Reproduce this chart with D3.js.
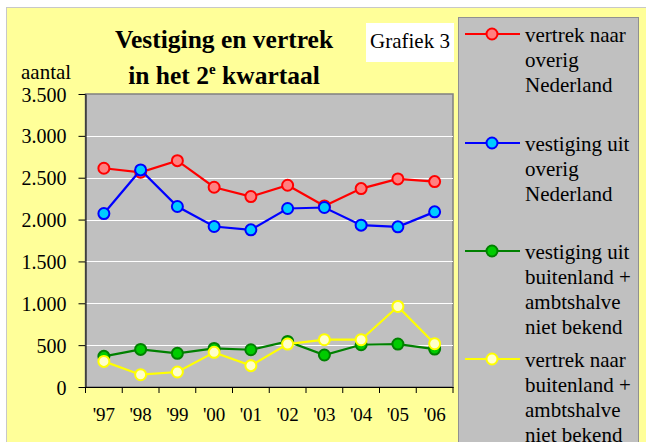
<!DOCTYPE html>
<html>
<head>
<meta charset="utf-8">
<script src="https://cdn.jsdelivr.net/npm/d3@7"></script>
<style>
  body { margin: 0; background: #fff; }
</style>
</head>
<body>
<svg id="chart"></svg>
<script>
// data
const years = ["'97", "'98", "'99", "'00", "'01", "'02", "'03", "'04", "'05", "'06"];
const vertrekNL = [2613, 2565, 2704, 2386, 2275, 2410, 2163, 2370, 2486, 2454];
const vestigingNL = [2072, 2593, 2156, 1917, 1877, 2132, 2144, 1933, 1913, 2092];
const vestigingBL = [366, 449, 402, 461, 445, 545, 382, 505, 513, 453];
const vertrekBL = [306, 147, 179, 414, 255, 513, 565, 565, 962, 517];
const yTicks = [0, 500, 1000, 1500, 2000, 2500, 3000, 3500];

const series = [
  { name: ["vertrek naar", "overig", "Nederland"], values: vertrekNL, line: "#ff0000", fill: "#ff8080" },
  { name: ["vestiging uit", "overig", "Nederland"], values: vestigingNL, line: "#0000ff", fill: "#00ccff" },
  { name: ["vestiging uit", "buitenland +", "ambtshalve", "niet bekend"], values: vestigingBL, line: "#008000", fill: "#00cc00" },
  { name: ["vertrek naar", "buitenland +", "ambtshalve", "niet bekend"], values: vertrekBL, line: "#ffff00", fill: "#ffffcc" }
];

const serif = '"Liberation Serif", "Times New Roman", Times, "DejaVu Serif", serif';

const svg = d3.select('#chart')
  .attr('width', 646)
  .attr('height', 442)
  .attr('font-family', serif);

// chart background
svg.append('rect')
  .attr('x', 6.5).attr('y', 7.5)
  .attr('width', 650).attr('height', 440)
  .style('fill', '#ffff99')
  .style('stroke', '#c8c8c8');

const plot = { left: 85.5, right: 453, top: 94, bottom: 387 };

const x = d3.scaleBand()
  .domain(years)
  .range([plot.left, plot.right])
  .padding(0);

const y = d3.scaleLinear()
  .domain([0, 3500])
  .range([plot.bottom, plot.top]);

// plot area
svg.append('rect')
  .attr('x', plot.left).attr('y', plot.top)
  .attr('width', plot.right - plot.left).attr('height', plot.bottom - plot.top)
  .style('fill', '#c0c0c0')
  .style('stroke', '#808080')
  .style('stroke-width', 1.5);

// gridlines
svg.append('g')
  .selectAll('line')
  .data(yTicks.filter(d => d > 0 && d < 3500))
  .enter()
  .append('line')
  .attr('x1', plot.left).attr('x2', plot.right)
  .attr('y1', d => Math.round(y(d)) + 0.5).attr('y2', d => Math.round(y(d)) + 0.5)
  .style('stroke', '#fff');

const nl = d3.formatLocale({ decimal: ',', thousands: '.', grouping: [3], currency: ['', ''] });

// y axis
const yAxis = svg.append('g')
  .attr('transform', `translate(${plot.left},0)`)
  .call(d3.axisLeft(y).tickValues(yTicks).tickFormat(nl.format(',d')).tickSize(7).tickPadding(12).tickSizeOuter(0));
yAxis.attr('font-family', null).attr('font-size', null);
yAxis.selectAll('text').style('font-size', '20px').style('font-family', serif).attr('dy', '0.35em');
yAxis.selectAll('line, path').style('stroke', '#000');

// x axis: labels centered in bands, ticks on band edges
const xAxis = svg.append('g')
  .attr('transform', `translate(0,${plot.bottom})`)
  .call(d3.axisBottom(x).tickSize(0).tickPadding(21).tickSizeOuter(0));
xAxis.attr('font-family', null).attr('font-size', null);
xAxis.selectAll('text').style('font-size', '19px').style('font-family', serif);
xAxis.select('path').style('stroke', '#000');
xAxis.selectAll('.edge')
  .data(d3.range(years.length + 1))
  .enter()
  .append('line')
  .attr('class', 'edge')
  .attr('x1', i => plot.left + i * x.step()).attr('x2', i => plot.left + i * x.step())
  .attr('y1', 0).attr('y2', 6)
  .style('stroke', '#000');

// lines + markers
const line = d3.line()
  .x((d, i) => x(years[i]) + x.bandwidth() / 2)
  .y(d => y(d));

series.forEach(s => {
  svg.append('path')
    .datum(s.values)
    .attr('d', line)
    .style('fill', 'none')
    .style('stroke', s.line)
    .style('stroke-width', 2.2);
  svg.append('g')
    .selectAll('circle')
    .data(s.values)
    .enter()
    .append('circle')
    .attr('cx', (d, i) => x(years[i]) + x.bandwidth() / 2)
    .attr('cy', d => y(d))
    .attr('r', 5.5)
    .style('fill', s.fill)
    .style('stroke', s.line)
    .style('stroke-width', 2);
});

// titles
const title = svg.append('text')
  .attr('text-anchor', 'middle')
  .style('font-size', '25.5px')
  .style('font-weight', 'bold');
title.append('tspan').attr('x', 224).attr('y', 48).text('Vestiging en vertrek');
const t2 = title.append('tspan').attr('x', 224).attr('y', 84);
t2.append('tspan').text('in het 2');
t2.append('tspan').attr('dy', -10).style('font-size', '15px').text('e');
t2.append('tspan').attr('dy', 10).text(' kwartaal');

svg.append('text')
  .attr('x', 21).attr('y', 79)
  .style('font-size', '21px')
  .text('aantal');

svg.append('rect')
  .attr('x', 366).attr('y', 23)
  .attr('width', 88).attr('height', 39)
  .style('fill', '#fff');
svg.append('text')
  .attr('x', 410).attr('y', 48)
  .attr('text-anchor', 'middle')
  .style('font-size', '21px')
  .text('Grafiek 3');

// legend
svg.append('rect')
  .attr('x', 458.5).attr('y', 17.5)
  .attr('width', 180).attr('height', 440)
  .style('fill', '#c0c0c0')
  .style('stroke', '#909090');

const legendY = [34, 143, 251, 359];
series.forEach((s, k) => {
  const g = svg.append('g').attr('transform', `translate(0,${legendY[k]})`);
  g.append('line')
    .attr('x1', 465).attr('x2', 520)
    .style('stroke', s.line)
    .style('stroke-width', 2.2);
  g.append('circle')
    .attr('cx', 492).attr('r', 5.5)
    .style('fill', s.fill)
    .style('stroke', s.line)
    .style('stroke-width', 2);
  g.append('text')
    .style('font-size', '21px')
    .selectAll('tspan')
    .data(s.name)
    .enter()
    .append('tspan')
    .attr('x', 525)
    .attr('y', (d, i) => 8 + i * 25)
    .text(d => d);
});
</script>
</body>
</html>
